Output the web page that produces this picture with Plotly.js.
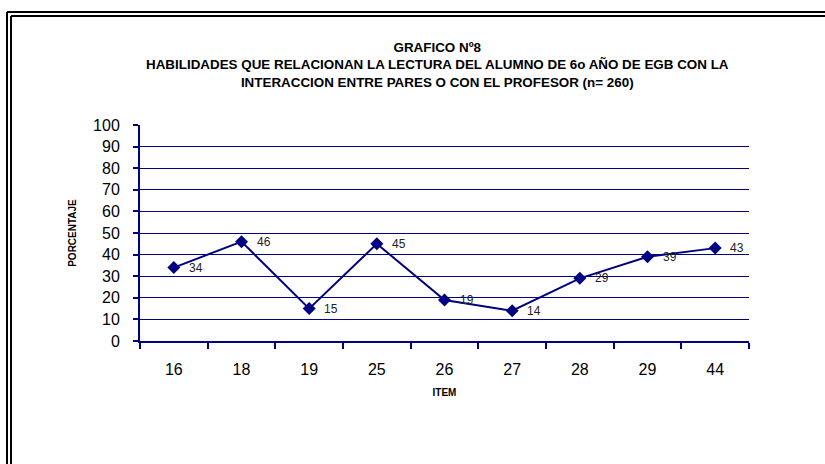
<!DOCTYPE html>
<html>
<head>
<meta charset="utf-8">
<script src="https://cdn.plot.ly/plotly-3.0.1.min.js"></script>
<style>
  html, body { margin: 0; padding: 0; background: #fff; }
  #chart { width: 825px; height: 464px; }
</style>
</head>
<body>
<div id="chart"></div>
<script>
// ---- data ----
const items = ["16", "18", "19", "25", "26", "27", "28", "29", "44"];
const percentages = [34, 46, 15, 45, 19, 14, 29, 39, 43];
const yTicks = [0, 10, 20, 30, 40, 50, 60, 70, 80, 90, 100];

const titleLines = [
  "GRAFICO Nº8",
  "HABILIDADES QUE RELACIONAN LA LECTURA DEL ALUMNO DE 6o AÑO DE EGB CON LA",
  "INTERACCION ENTRE PARES O CON EL PROFESOR (n= 260)"
];

// ---- layout geometry ----
const W = 825, H = 464;
const M = { l: 140, r: 76, t: 125, b: 123 };
const plotW = W - M.l - M.r, plotH = H - M.t - M.b;
const px = x => (x - M.l) / plotW;          // pixel -> paper x
const py = y => (H - M.b - y) / plotH;      // pixel -> paper y

const navy = "#000080";

const trace = {
  type: "scatter",
  mode: "lines+markers",
  x: items,
  y: percentages,
  line: { color: navy, width: 2 },
  marker: { symbol: "diamond", size: 10, color: navy },
  hoverinfo: "x+y"
};

// category axes accept the category index as position
const labelAnnotations = items.map((it, i) => ({
  x: i, y: percentages[i], xref: "x", yref: "y",
  text: String(percentages[i]),
  showarrow: false, xanchor: "left", yanchor: "middle",
  xshift: 13,
  font: { family: "Liberation Sans, Arial, sans-serif", size: 12, color: "#222" }
}));

const titleAnnotation = {
  xref: "paper", yref: "paper",
  x: px(437), y: py(65), xanchor: "center", yanchor: "middle",
  showarrow: false,
  text: titleLines.map(s => "<b>" + s + "</b>").join("<br>"),
  font: { family: "Liberation Sans, Arial, sans-serif", size: 13.4, color: "#000" }
};

const frameShapes = [
  { type: "line", xref: "paper", yref: "paper", x0: px(7), x1: px(W + 5), y0: py(12), y1: py(12), line: { color: "#000", width: 2 } },
  { type: "line", xref: "paper", yref: "paper", x0: px(7), x1: px(7), y0: py(12), y1: py(H + 5), line: { color: "#000", width: 2 } },
  { type: "line", xref: "paper", yref: "paper", x0: px(11), x1: px(W + 5), y0: py(16), y1: py(16), line: { color: "#000", width: 2 } },
  { type: "line", xref: "paper", yref: "paper", x0: px(11), x1: px(11), y0: py(16), y1: py(H + 5), line: { color: "#000", width: 2 } }
];

const layout = {
  width: W, height: H,
  margin: M,
  paper_bgcolor: "#fff",
  plot_bgcolor: "#fff",
  showlegend: false,
  font: { family: "Liberation Sans, Arial, sans-serif", color: "#000" },
  xaxis: {
    type: "category",
    range: [-0.5, items.length - 0.5], autorange: false,
    showline: true, linecolor: navy, linewidth: 2,
    ticks: "outside", tickson: "boundaries", ticklen: 6, tickcolor: navy, tickwidth: 2,
    tickangle: 0,
    ticklabelstandoff: 13,
    showgrid: false, zeroline: false,
    tickfont: { size: 16, color: "#000" },
    title: { text: "<b>ITEM</b>", font: { size: 10, color: "#000" }, standoff: 12 },
    fixedrange: true
  },
  yaxis: {
    range: [0, 100], autorange: false,
    tickvals: yTicks,
    showline: true, linecolor: navy, linewidth: 2,
    ticks: "outside", ticklen: 5, tickcolor: navy, tickwidth: 2,
    ticklabelstandoff: 10,
    showgrid: true, gridcolor: navy, gridwidth: 1,
    zeroline: false,
    tickfont: { size: 16, color: "#000" },
    title: { text: "<b>PORCENTAJE</b>", font: { size: 10, color: "#000" }, standoff: 15 },
    fixedrange: true
  },
  annotations: [titleAnnotation, ...labelAnnotations],
  shapes: frameShapes
};

Plotly.newPlot("chart", [trace], layout, { displayModeBar: false, staticPlot: true });
</script>
</body>
</html>
